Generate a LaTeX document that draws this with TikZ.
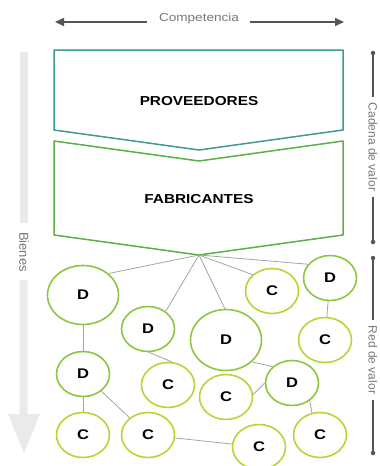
\documentclass[tikz,border=0pt]{standalone}
\usepackage{fontspec}
\setmainfont{Liberation Sans}
\usetikzlibrary{shapes.geometric,arrows.meta}
\definecolor{tealc}{RGB}{62,155,146}
\definecolor{greenc}{RGB}{93,175,71}
\definecolor{dcol}{RGB}{141,198,63}
\definecolor{ccol}{RGB}{186,212,54}
\definecolor{conng}{RGB}{165,165,165}
\definecolor{darkg}{RGB}{85,85,85}
\definecolor{lightg}{RGB}{234,234,234}
\definecolor{textg}{RGB}{120,120,120}
\newcommand{\hs}[1]{\scalebox{1.18}[1]{#1}}
\begin{document}
\begin{tikzpicture}[x=1pt,y=-1pt,
  dnode/.style={ellipse,draw=dcol,line width=1.6pt,fill=white,inner sep=0pt,minimum width=53pt,minimum height=45pt,font=\fontsize{14}{16}\selectfont\bfseries},
  cnode/.style={ellipse,draw=ccol,line width=1.6pt,fill=white,inner sep=0pt,minimum width=53pt,minimum height=45pt,font=\fontsize{14}{16}\selectfont\bfseries},
  bignode/.style={minimum width=71pt,minimum height=59pt},
  conn/.style={draw=conng,line width=0.8pt},
  titletext/.style={font=\fontsize{13}{15}\selectfont\bfseries,text=black},
  sidetext/.style={font=\fontsize{12}{14}\selectfont,text=textg,rotate=-90,inner xsep=6pt,inner ysep=0pt},
  barline/.style={draw=darkg,line width=1.1pt},
  bardot/.style={fill=darkg,circle,inner sep=0pt,minimum size=4.5pt},
  comparrow/.style={draw=darkg,line width=1.6pt,-{Triangle[length=9pt,width=8pt]}}
]
\useasboundingbox (0,0) rectangle (380,466);

% Competencia
\node[font=\fontsize{11.5}{13}\selectfont,text=textg] (comp) at (199,19) {\hs{Competencia}};
\coordinate (compL) at (55,22);
\coordinate (compR) at (344,22);
\draw[comparrow] (147,22) -- (compL);
\draw[comparrow] (250,22) -- (compR);

% Bienes arrow
\fill[lightg] (19.5,52) rectangle (27.5,223);
\node[sidetext,font=\fontsize{13}{15}\selectfont] (bienes) at (24,252) {Bienes};
\fill[lightg] (19.5,280) -- (27.5,280) -- (27.5,414) -- (40,414) -- (24,453) -- (8,414) -- (19.5,414) -- cycle;

% Right bars
\node[bardot] (cd1) at (373,53) {};
\node[bardot] (cd2) at (373,242) {};
\node[sidetext] (cadena) at (373,147) {Cadena de valor};
\draw[barline] (cd1) -- (cadena.west);
\draw[barline] (cadena.east) -- (cd2);
\node[bardot] (rd1) at (373,258) {};
\node[bardot] (rd2) at (373,453) {};
\node[sidetext] (red) at (373,360) {Red de valor};
\draw[barline] (rd1) -- (red.west);
\draw[barline] (red.east) -- (rd2);

% Chevrons
\draw[tealc,line width=1.5pt,line join=round] (54,50) -- (343,50) -- (343,130) -- (199,150) -- (54,130) -- cycle;
\node[titletext] (prov) at (199,101) {\hs{PROVEEDORES}};
\draw[greenc,line width=1.5pt,line join=round] (54,141) -- (199,161) -- (343,141) -- (343,235) -- (199,255) -- (54,235) -- cycle;
\node[titletext] (fab) at (199,199) {\hs{FABRICANTES}};
\coordinate (apex) at (199,255);

% Network nodes
\node[dnode,bignode] (d1) at (83,295) {\hs{D}};
\node[dnode] (d2) at (148,329) {\hs{D}};
\node[dnode,bignode,minimum height=61pt] (d3) at (226,340) {\hs{D}};
\node[cnode] (c4) at (272,291) {\hs{C}};
\node[dnode] (d5) at (330,278) {\hs{D}};
\node[cnode] (c6) at (325,340) {\hs{C}};
\node[dnode] (d7) at (83,374) {\hs{D}};
\node[cnode] (c8) at (168,385) {\hs{C}};
\node[cnode] (c9) at (226,397) {\hs{C}};
\node[dnode] (d10) at (292,383) {\hs{D}};
\node[cnode] (c11) at (83,435) {\hs{C}};
\node[cnode] (c12) at (148,435) {\hs{C}};
\node[cnode] (c13) at (259,447) {\hs{C}};
\node[cnode] (c14) at (320,435) {\hs{C}};

% Connectors
\draw[conn] (apex) -- (d1.40);
\draw[conn] (apex) -- (d2.45);
\draw[conn] (apex) -- (d3.92);
\draw[conn] (apex) -- (c4.140);
\draw[conn] (apex) -- (d5.148);
\draw[conn] (d1) -- (d7);
\draw[conn] (d5) -- (c6);
\draw[conn] (d2.-88) -- (c8.80);
\draw[conn] (d3.-40) -- (d10.140);
\draw[conn] (c9.5) -- (d10.180);
\draw[conn] (d7) -- (c11);
\draw[conn] (d7) -- (c12);
\draw[conn] (c12) -- (c13);
\draw[conn] (d10.-45) -- (c14.110);
\end{tikzpicture}
\end{document}
